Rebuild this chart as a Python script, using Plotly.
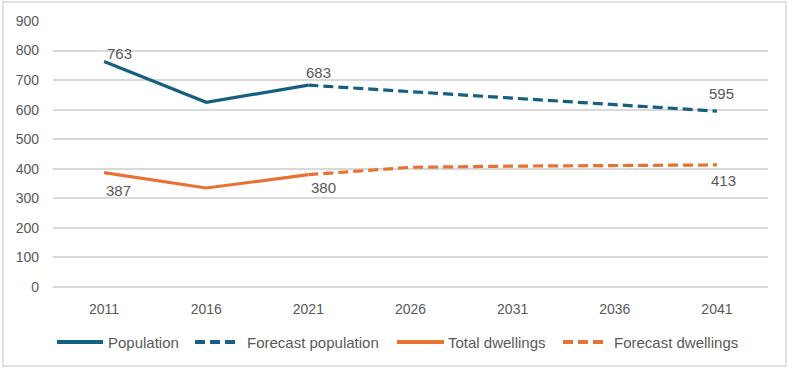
import plotly.graph_objects as go

# Census years and forecast years (category axis)
years = ["2011", "2016", "2021", "2026", "2031", "2036", "2041"]

# Recorded values
population = [763, 625, 683]
dwellings = [387, 335, 380]

# Forecast values from 2021 onwards
forecast_years = ["2021", "2026", "2031", "2036", "2041"]
forecast_population = [683, 661, 639, 617, 595]
forecast_dwellings = [380, 405, 409, 411, 413]

series_names = ["Population", "Forecast population", "Total dwellings", "Forecast dwellings"]

BLUE = "#156082"
ORANGE = "#E97132"
GREY_TEXT = "#595959"
GRID = "#D9D9D9"
FONT = "Liberation Sans, Arial, sans-serif"
DASH = "10px,5px"
LW = 3.2

# Plot area geometry in pixels
W, H = 788, 368
ML, MR, MT, MB = 53, 20, 21, 81
PW, PH = W - ML - MR, H - MT - MB


def px_x(px):
    return (px - ML) / PW


def px_y(py):
    return (H - MB - py) / PH


idx = {y: i for i, y in enumerate(years)}

fig = go.Figure()
fig.add_trace(go.Scatter(x=years[:3], y=population, mode="lines", name=series_names[0],
                         line=dict(color=BLUE, width=LW)))
fig.add_trace(go.Scatter(x=forecast_years, y=forecast_population, mode="lines",
                         name=series_names[1], line=dict(color=BLUE, width=LW, dash=DASH)))
fig.add_trace(go.Scatter(x=years[:3], y=dwellings, mode="lines", name=series_names[2],
                         line=dict(color=ORANGE, width=LW)))
fig.add_trace(go.Scatter(x=forecast_years, y=forecast_dwellings, mode="lines",
                         name=series_names[3], line=dict(color=ORANGE, width=LW, dash=DASH)))

# Value labels with their pixel offsets from the point
labels = [
    (years[0], population[0], 1, 8),
    (years[2], population[2], -4, 12.5),
    (forecast_years[-1], forecast_population[-1], -10, 18),
    (years[0], dwellings[0], 0, -17.5),
    (years[2], dwellings[2], 0.5, -13),
    (forecast_years[-1], forecast_dwellings[-1], -7.5, -15.5),
]
for yr, val, dx, dy in labels:
    fig.add_annotation(x=idx[yr], y=val, text=str(val), showarrow=False,
                       xanchor="left", yanchor="middle", xshift=dx, yshift=dy,
                       font=dict(family=FONT, size=15, color=GREY_TEXT))

# Legend drawn below the plot: sample line span and text start (pixels)
legend_style = [(BLUE, None), (BLUE, DASH), (ORANGE, None), (ORANGE, DASH)]
legend_samples = [(57, 103), (195, 237), (397, 444), (563, 606)]
legend_text_x = [106, 245, 446, 612]
legend_y = px_y(342)
for name, (col, dash), (sx0, sx1), tx in zip(series_names, legend_style,
                                             legend_samples, legend_text_x):
    fig.add_shape(type="line", xref="paper", yref="paper",
                  x0=px_x(sx0), x1=px_x(sx1), y0=legend_y, y1=legend_y,
                  line=dict(color=col, width=4, dash=dash if dash else "solid"))
    fig.add_annotation(xref="paper", yref="paper", x=px_x(tx), y=legend_y,
                       text=name, showarrow=False, xanchor="left", yanchor="middle",
                       font=dict(family=FONT, size=15, color=GREY_TEXT))

# Light outer frame around the whole chart
fig.add_shape(type="rect", xref="paper", yref="paper",
              x0=px_x(3), x1=px_x(786), y0=px_y(366), y1=px_y(2),
              line=dict(color=GRID, width=1.5), fillcolor="rgba(0,0,0,0)", layer="below")

fig.update_layout(
    width=W, height=H,
    margin=dict(l=ML, r=MR, t=MT, b=MB),
    paper_bgcolor="white", plot_bgcolor="white",
    showlegend=False,
    xaxis=dict(type="category", categoryorder="array", categoryarray=years,
               range=[-0.5, 6.5], showgrid=False, showline=False, ticks="",
               ticklabelstandoff=12,
               tickfont=dict(family=FONT, size=14, color=GREY_TEXT)),
    yaxis=dict(range=[0, 900], dtick=100, showgrid=True, gridcolor=GRID, gridwidth=1.5,
               zeroline=True, zerolinecolor=GRID, zerolinewidth=1.5,
               showline=False, ticks="", ticklabelstandoff=13,
               tickfont=dict(family=FONT, size=14, color=GREY_TEXT)),
)

fig.write_html("out.html")
